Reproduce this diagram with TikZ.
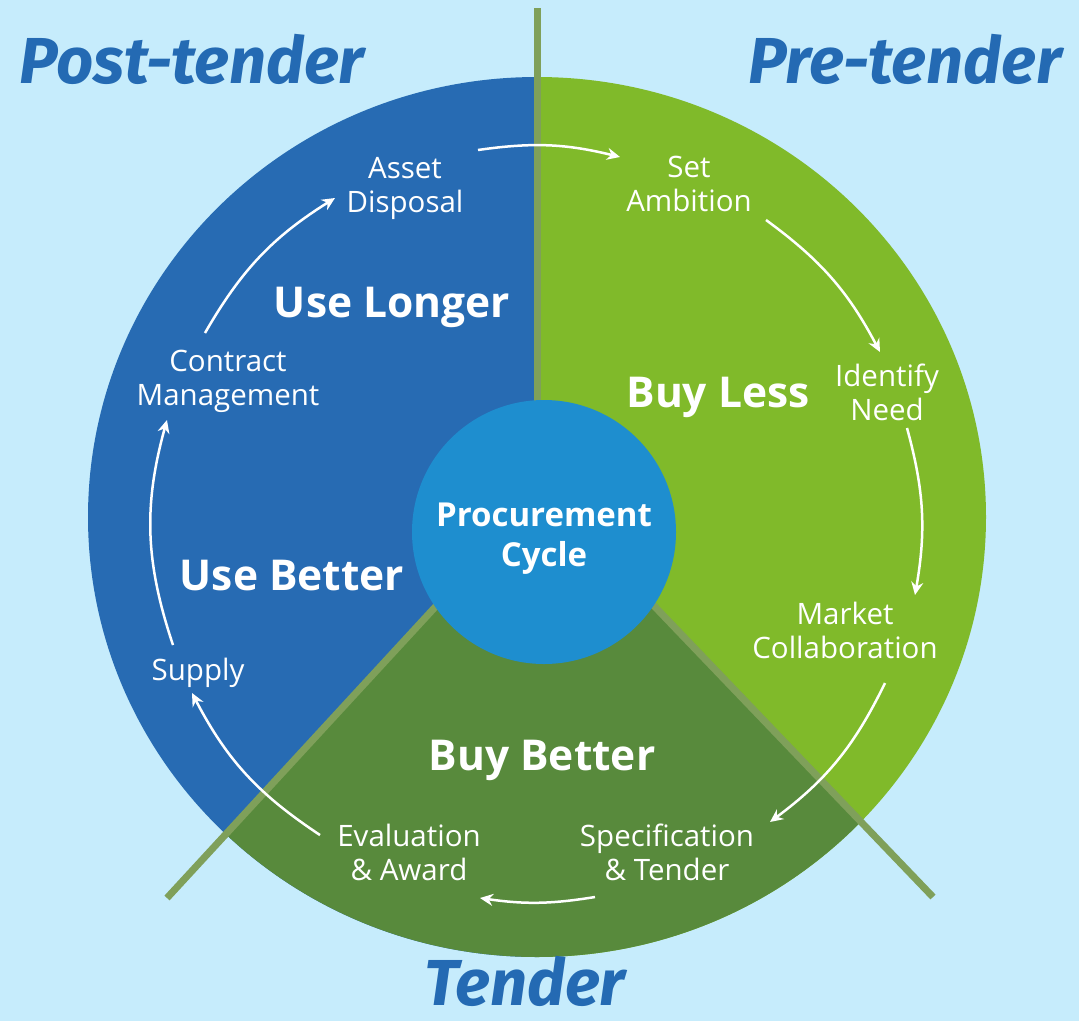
\documentclass[tikz,border=0pt]{standalone}
\usepackage{fontspec}
\setmainfont{Open Sans}
\newfontfamily\titlefont{Fira Sans}
\usetikzlibrary{arrows.meta}
\definecolor{bg}{HTML}{C6ECFC}
\definecolor{blueseg}{HTML}{276BB3}
\definecolor{lightgreen}{HTML}{80BA2A}
\definecolor{darkgreen}{HTML}{588A3C}
\definecolor{innerblue}{HTML}{1E8ECF}
\definecolor{dividercol}{HTML}{7FA05A}
\definecolor{titleblue}{HTML}{246AB3}
\begin{document}
\begin{tikzpicture}[x=1pt,y=-1pt,
  lbl/.style={text=white, align=center, font=\fontsize{29.5}{34}\selectfont, inner sep=0pt},
  head/.style={text=white, anchor=base, font=\bfseries\fontsize{42.5}{48}\selectfont, inner sep=0pt},
  ttl/.style={text=titleblue, anchor=base, font=\titlefont\bfseries\itshape\fontsize{65}{70}\selectfont, inner sep=0pt},
  flow/.style={white, line width=2.5pt, -{Stealth[length=13pt,width=12pt]}},
  divider/.style={dividercol, line width=7pt}]
\fill[bg] (0,0) rectangle (1079,1021);
\useasboundingbox (0,0) rectangle (1079,1021);
\begin{scope}
  \clip (537,517) ellipse [x radius=449, y radius=440];
  \fill[blueseg] (0,0) rectangle (537,1021);
  \fill[lightgreen] (537,0) rectangle (1079,1021);
  \fill[darkgreen] (543,490) -- (-21,1102) -- (1128,1100) -- cycle;
\end{scope}
\coordinate (apex) at (543,490);
\coordinate (ltip) at (167,898);
\coordinate (rtip) at (933,897);
\coordinate (vtop) at (537,8);
\coordinate (vbot) at (537,520);
\draw[divider] (vtop) -- (vbot);
\draw[divider] (apex) -- (ltip);
\draw[divider] (apex) -- (rtip);
\node[circle, fill=innerblue, minimum size=264pt, inner sep=0pt] (core) at (544,532) {};
\node[text=white, align=center, inner sep=0pt,
  font=\bfseries\fontsize{33}{40}\selectfont] (pc) at (544,539) {Procurement\\Cycle};

\node[ttl] (post) at (192,83) {Post-tender};
\node[ttl] (pre) at (905,83) {Pre-tender};
\node[ttl] (tend) at (525,1005) {Tender};

\node[head] (ul) at (392,317) {Use Longer};
\node[head] (bl) at (718,407) {Buy Less};
\node[head] (ub) at (292,590) {Use Better};
\node[head] (bb) at (542,770) {Buy Better};

\node[lbl] (ad) at (405,188) {Asset\\Disposal};
\node[lbl] (sa) at (689,184) {Set\\Ambition};
\node[lbl] (in) at (887,392) {Identify\\Need};
\node[lbl] (mc) at (845,630) {Market\\Collaboration};
\node[lbl] (st) at (667,852) {Specification\\\& Tender};
\node[lbl] (ea) at (409,852) {Evaluation\\\& Award};
\node[lbl, anchor=base] (su) at (198,680) {Supply};
\node[lbl] (cm) at (228,381) {Contract\\Management};

\draw[flow] ([shift={(73,-38)}]ad.center) to[bend left=11] ([shift={(-69,-27)}]sa.center);
\draw[flow] ([shift={(77,36)}]sa.center) to[bend left=13] ([shift={(-7,-40)}]in.center);
\draw[flow] ([shift={(20,36)}]in.center) to[bend left=12.6] ([shift={(70,-35)}]mc.center);
\draw[flow] ([shift={(40,53)}]mc.center) to[bend left=13.7] ([shift={(103,-30)}]st.center);
\draw[flow] ([shift={(-72,45)}]st.center) to[bend left=8.7] ([shift={(71,46)}]ea.center);
\draw[flow] ([shift={(-89,-17)}]ea.center) to[bend left=14.5] ([shift={(-6,13)}]su.base);
\draw[flow] ([shift={(-25,-35)}]su.base) to[bend left=17] ([shift={(-61,39)}]cm.center);
\draw[flow] ([shift={(-23,-48)}]cm.center) to[bend left=14] ([shift={(-70,10)}]ad.center);
\end{tikzpicture}
\end{document}
